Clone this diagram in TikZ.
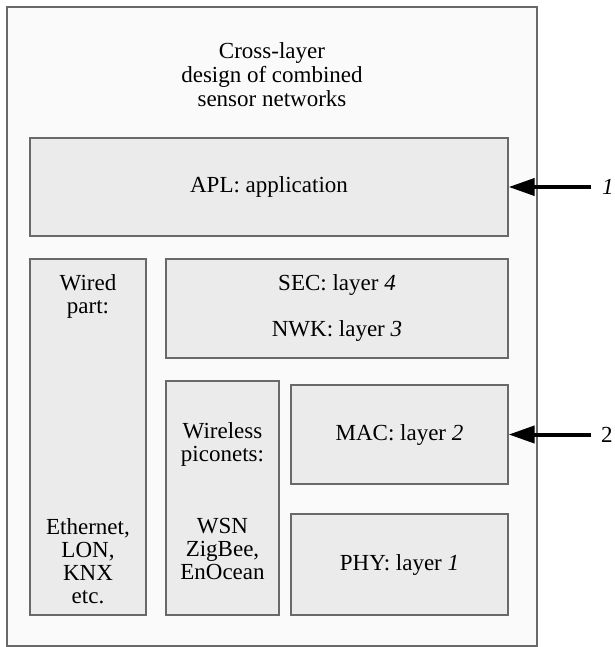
\documentclass[tikz,border=0pt]{standalone}
\usepackage{fontspec}
\setmainfont{Liberation Serif}
\usetikzlibrary{arrows.meta}
\definecolor{outerfill}{RGB}{250,250,250}
\definecolor{boxfill}{RGB}{235,235,235}
\definecolor{edge}{RGB}{105,105,105}
\begin{document}
\begin{tikzpicture}[x=1pt,y=-1pt,
  frame/.style={draw=edge,line width=1.3pt,fill=outerfill},
  layerbox/.style={draw=edge,line width=1.3pt,fill=boxfill,rectangle,inner sep=0pt},
  txt/.style={font=\fontsize{23}{23}\selectfont,align=center,inner sep=0pt},
  bigarrow/.style={line width=4pt,-{Triangle[length=26pt,width=17pt]}}
]
\useasboundingbox (0,0) rectangle (614,647);
\fill[white] (0,0) rectangle (614,647);
\draw[frame] (7,7) rectangle (537,646);
\node[txt,font=\fontsize{23}{24}\selectfont] (title) at (272,75) {Cross-layer\\design of combined\\sensor networks};
% boxes
\node[layerbox,minimum width=478pt,minimum height=98pt] (apl) at (269,187) {};
\node[txt] at (apl.center) {APL: application};
\node[layerbox,minimum width=116pt,minimum height=356pt] (wired) at (88,437) {};
\node[txt] at (88,296) {Wired\\part:};
\node[txt] at (88,561) {Ethernet,\\LON,\\KNX\\etc.};
\node[layerbox,minimum width=342pt,minimum height=99pt] (secnwk) at (337,308.5) {};
\node[txt] at (337,285) {SEC: layer \textit{4}};
\node[txt] at (337,331) {NWK: layer \textit{3}};
\node[layerbox,minimum width=113pt,minimum height=234pt] (wireless) at (222.5,498) {};
\node[txt] at (222.5,444) {Wireless\\piconets:};
\node[txt] at (222.5,549) {WSN\\ZigBee,\\EnOcean};
\node[layerbox,minimum width=217pt,minimum height=99pt] (mac) at (399.5,434.5) {};
\node[txt] at (mac.center) {MAC: layer \textit{2}};
\node[layerbox,minimum width=217pt,minimum height=101pt] (phy) at (399.5,564.5) {};
\node[txt] at (phy.center) {PHY: layer \textit{1}};
% arrows
\coordinate (a1) at (591,187);
\coordinate (a2) at (591,434.5);
\draw[bigarrow] (a1) -- (apl.east);
\draw[bigarrow] (a2) -- (mac.east);
\node[txt,anchor=west] (l1) at (602,187) {\textit{1}};
\node[txt,anchor=west] (l2) at (601,434.5) {2};
\end{tikzpicture}
\end{document}
